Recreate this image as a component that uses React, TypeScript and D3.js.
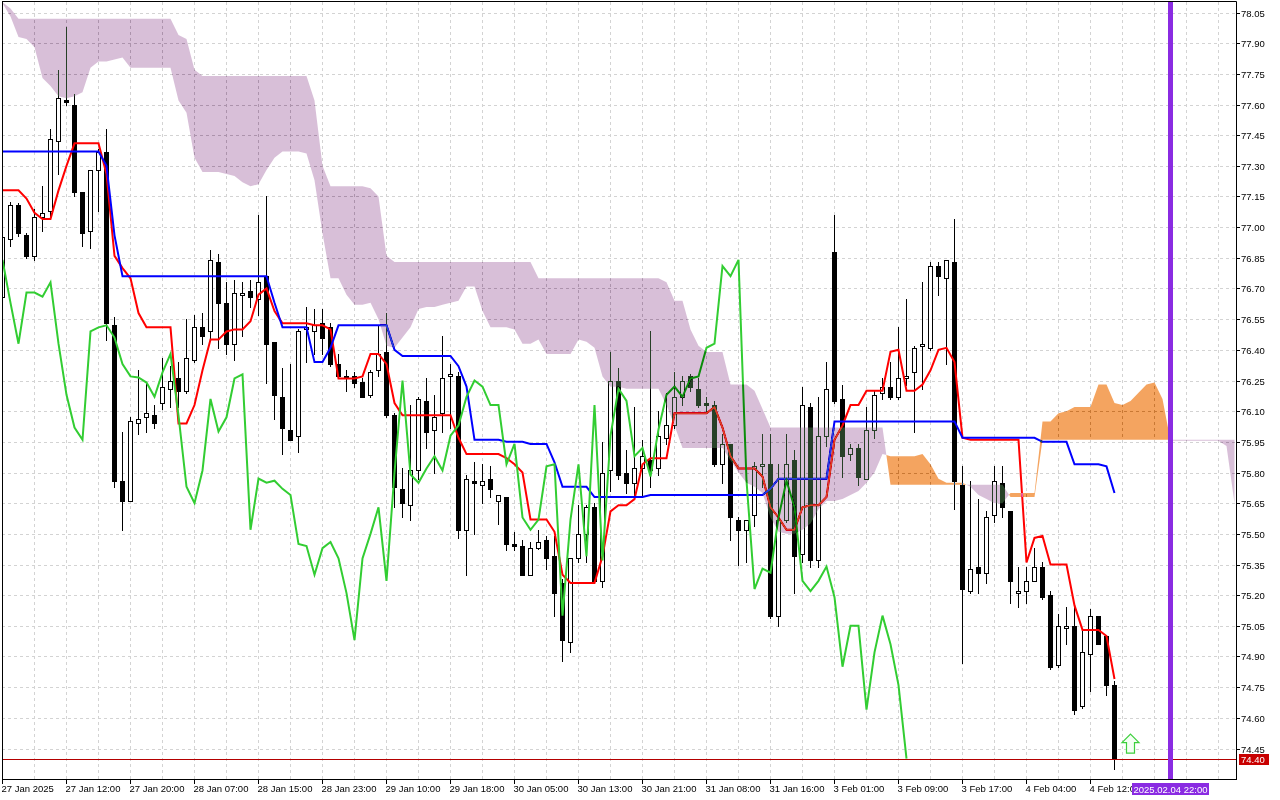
import React from 'react';
import * as d3 from 'd3';

// Hourly bars 27 Jan 2025 – 4 Feb 2025 15:00
const opens = [
  76.66, 76.94, 77.11, 76.96, 76.86, 77.05, 77.08, 77.42, 77.62, 77.60,
  77.17, 76.98, 77.28, 77.37, 76.52, 75.76, 75.66, 76.04, 76.07, 76.08,
  76.14, 76.21, 76.26, 76.20, 76.35, 76.51, 76.49, 76.83, 76.63, 76.43,
  76.67, 76.69, 76.65, 76.76, 76.44, 76.17, 76.01, 75.98, 76.50, 76.49,
  76.53, 76.51, 76.33, 76.27, 76.27, 76.245, 76.18, 76.30, 76.39, 76.08,
  75.72, 75.64, 75.81, 76.15, 76.01, 76.09, 76.27, 76.27, 75.52, 75.76,
  75.74, 75.77, 75.66, 75.68, 75.45, 75.44, 75.30, 75.43, 75.47, 75.39,
  75.26, 74.97, 75.38, 75.50, 75.63, 75.27, 75.81, 76.25, 75.80, 75.75,
  75.82, 75.86, 75.82, 75.97, 76.03, 76.17, 76.27, 76.21, 76.14, 76.13,
  75.84, 75.94, 75.57, 75.52, 75.59, 75.83, 75.84, 75.10, 75.57, 75.86,
  75.40, 76.12, 75.37, 75.98, 76.88, 76.16, 75.89, 75.92, 75.77, 76.01,
  76.19, 76.22, 76.17, 76.26, 76.29, 76.42, 76.41, 76.81, 76.75, 76.83,
  75.74, 75.22, 75.34, 75.31, 75.59, 75.75, 75.61, 75.21, 75.22, 75.27,
  75.34, 75.20, 74.86, 75.04, 75.05, 74.66, 74.91, 75.10, 75.00, 74.76,
];
const highs = [
  76.97, 77.125, 77.12, 76.97, 77.09, 77.20, 77.48, 77.77, 77.98, 77.65,
  77.17, 77.28, 77.38, 77.48, 76.56, 76.00, 76.07, 76.30, 76.24, 76.13,
  76.36, 76.32, 76.34, 76.55, 76.57, 76.58, 76.89, 76.87, 76.73, 76.74,
  76.73, 76.74, 77.06, 77.15, 76.44, 76.31, 76.33, 76.50, 76.61, 76.60,
  76.60, 76.53, 76.38, 76.30, 76.29, 76.26, 76.30, 76.52, 76.58, 76.09,
  75.82, 76.13, 76.17, 76.26, 76.18, 76.47, 76.33, 76.29, 75.79, 75.85,
  75.84, 75.83, 75.69, 75.68, 75.51, 75.47, 75.46, 75.52, 75.49, 75.49,
  75.28, 75.38, 75.64, 75.64, 75.65, 75.95, 76.39, 76.31, 75.91, 76.12,
  75.96, 76.49, 76.10, 76.19, 76.29, 76.27, 76.28, 76.26, 76.17, 76.15,
  75.99, 75.94, 75.58, 75.57, 75.85, 75.99, 75.99, 75.84, 75.99, 75.91,
  76.22, 76.14, 76.17, 76.34, 77.06, 76.23, 75.94, 75.94, 76.12, 76.20,
  76.26, 76.34, 76.51, 76.65, 76.42, 76.73, 76.83, 76.83, 76.84, 77.04,
  75.83, 75.76, 75.67, 75.61, 75.83, 75.83, 75.61, 75.34, 75.34, 75.43,
  75.36, 75.22, 75.11, 75.14, 75.14, 75.03, 75.13, 75.10, 75.00, 74.78,
];
const lows = [
  76.64, 76.91, 76.955, 76.85, 76.84, 76.98, 77.04, 77.26, 77.60, 77.15,
  76.91, 76.90, 77.08, 76.45, 75.73, 75.52, 75.66, 75.99, 76.00, 76.02,
  76.11, 76.12, 76.12, 76.19, 76.34, 76.43, 76.45, 76.41, 76.38, 76.35,
  76.47, 76.61, 76.57, 76.24, 76.06, 75.89, 75.96, 75.90, 76.34, 76.38,
  76.38, 76.32, 76.26, 76.20, 76.22, 76.17, 76.17, 76.27, 76.07, 75.63,
  75.58, 75.57, 75.77, 75.92, 75.80, 76.00, 76.02, 75.48, 75.30, 75.50,
  75.65, 75.68, 75.55, 75.42, 75.42, 75.30, 75.30, 75.425, 75.33, 75.10,
  74.88, 74.92, 75.36, 75.36, 75.26, 75.24, 75.71, 75.77, 75.70, 75.69,
  75.68, 75.73, 75.79, 75.94, 76.02, 76.13, 76.20, 76.12, 76.10, 75.83,
  75.75, 75.47, 75.35, 75.36, 75.54, 75.73, 75.09, 75.05, 75.56, 75.21,
  75.36, 75.34, 75.34, 75.93, 76.14, 75.78, 75.86, 75.74, 75.77, 75.97,
  76.16, 76.16, 76.16, 76.23, 76.00, 76.21, 76.40, 76.67, 76.33, 75.62,
  74.87, 75.21, 75.21, 75.26, 75.56, 75.58, 75.16, 75.14, 75.16, 75.27,
  75.18, 74.84, 74.85, 74.96, 74.62, 74.65, 74.73, 74.96, 74.71, 74.35,
];
const closes = [
  76.95, 77.11, 76.97, 76.86, 77.05, 77.07, 77.43, 77.63, 77.61, 77.17,
  76.97, 77.28, 77.37, 76.53, 75.76, 75.66, 76.05, 76.06, 76.09, 76.04,
  76.22, 76.25, 76.20, 76.36, 76.51, 76.47, 76.84, 76.63, 76.43, 76.68,
  76.68, 76.66, 76.73, 76.43, 76.18, 76.02, 75.96, 76.49, 76.51, 76.52,
  76.46, 76.33, 76.27, 76.265, 76.24, 76.17, 76.29, 76.38, 76.08, 75.73,
  75.65, 75.81, 76.16, 76.00, 76.07, 76.26, 76.28, 75.52, 75.77, 75.75,
  75.76, 75.72, 75.69, 75.45, 75.44, 75.30, 75.43, 75.46, 75.38, 75.21,
  74.98, 75.38, 75.50, 75.63, 75.27, 75.80, 76.25, 75.79, 75.75, 75.82,
  75.88, 75.81, 75.98, 76.03, 76.17, 76.25, 76.22, 76.13, 76.13, 75.84,
  75.94, 75.58, 75.52, 75.57, 75.83, 75.84, 75.10, 75.57, 75.84, 75.39,
  76.13, 75.37, 75.98, 76.21, 76.15, 75.88, 75.92, 75.78, 76.01, 76.18,
  76.22, 76.17, 76.26, 76.27, 76.41, 76.43, 76.81, 76.76, 76.84, 75.76,
  75.23, 75.33, 75.31, 75.58, 75.76, 75.63, 75.27, 75.22, 75.27, 75.34,
  75.19, 74.85, 75.05, 75.05, 74.64, 74.92, 75.10, 74.96, 74.76, 74.40,
];

// Ichimoku buffers as the terminal drew them (one value per bar)
const tenkan = [
  77.18, 77.18, 77.18, 77.14, 77.07, 77.04, 77.04, 77.18, 77.30, 77.41,
  77.41, 77.41, 77.41, 77.26, 76.86, 76.80, 76.75, 76.58, 76.51, 76.51,
  76.51, 76.51, 76.04, 76.04, 76.13, 76.30, 76.45, 76.45, 76.49, 76.50,
  76.50, 76.54, 76.67, 76.70, 76.59, 76.53, 76.53, 76.53, 76.53, 76.52,
  76.52, 76.50, 76.26, 76.26, 76.26, 76.27, 76.38, 76.38, 76.33, 76.14,
  76.08, 76.08, 76.08, 76.08, 76.08, 76.08, 76.08, 75.97, 75.89, 75.89,
  75.89, 75.89, 75.89, 75.87, 75.84, 75.80, 75.57, 75.57, 75.57, 75.51,
  75.30, 75.26, 75.26, 75.26, 75.26, 75.39, 75.61, 75.64, 75.64, 75.67,
  75.84, 75.87, 75.87, 75.87, 76.09, 76.09, 76.09, 76.09, 76.09, 76.12,
  76.02, 75.88, 75.82, 75.82, 75.82, 75.78, 75.63, 75.58, 75.52, 75.52,
  75.63, 75.64, 75.64, 75.68, 75.96, 76.03, 76.13, 76.13, 76.20, 76.20,
  76.20, 76.39, 76.40, 76.20, 76.20, 76.23, 76.30, 76.40, 76.41, 76.34,
  75.97, 75.96, 75.96, 75.96, 75.96, 75.96, 75.96, 75.96, 75.36, 75.48,
  75.49, 75.35, 75.35, 75.35, 75.15, 75.03, 75.03, 75.03, 75.00, 74.79,
];
const kijun = [
  77.37, 77.37, 77.37, 77.37, 77.37, 77.37, 77.37, 77.37, 77.37, 77.37,
  77.37, 77.37, 77.37, 77.30, 76.96, 76.76, 76.76, 76.76, 76.76, 76.76,
  76.76, 76.76, 76.76, 76.76, 76.76, 76.76, 76.76, 76.76, 76.76, 76.76,
  76.76, 76.76, 76.76, 76.76, 76.63, 76.51, 76.51, 76.51, 76.51, 76.34,
  76.34, 76.41, 76.52, 76.52, 76.52, 76.52, 76.52, 76.52, 76.52, 76.40,
  76.37, 76.37, 76.37, 76.37, 76.37, 76.37, 76.37, 76.32, 76.22, 75.96,
  75.96, 75.96, 75.96, 75.95, 75.95, 75.95, 75.94, 75.94, 75.94, 75.85,
  75.73, 75.73, 75.73, 75.73, 75.68, 75.68, 75.68, 75.68, 75.68, 75.68,
  75.68, 75.69, 75.69, 75.69, 75.69, 75.69, 75.69, 75.69, 75.69, 75.69,
  75.69, 75.69, 75.69, 75.69, 75.69, 75.69, 75.72, 75.77, 75.77, 75.77,
  75.77, 75.77, 75.77, 75.77, 76.05, 76.05, 76.05, 76.05, 76.05, 76.05,
  76.05, 76.05, 76.05, 76.05, 76.05, 76.05, 76.05, 76.05, 76.05, 76.05,
  75.97, 75.97, 75.97, 75.97, 75.97, 75.97, 75.97, 75.97, 75.97, 75.97,
  75.95, 75.95, 75.95, 75.95, 75.84, 75.84, 75.84, 75.84, 75.83, 75.70,
];
// Senkou spans, already shifted forward: index = bar slot on screen
const senkouA = [
  78.095, 78.03, 77.93, 77.92, 77.88, 77.73, 77.69, 77.64, 77.63, 77.64,
  77.66, 77.78, 77.81, 77.81, 77.82, 77.83, 77.78, 77.78, 77.78, 77.78,
  77.78, 77.78, 77.62, 77.56, 77.34, 77.27, 77.27, 77.27, 77.26, 77.25,
  77.22, 77.20, 77.21, 77.28, 77.34, 77.37, 77.37, 77.37, 77.36, 77.23,
  76.97, 76.75, 76.75, 76.67, 76.62, 76.62, 76.63, 76.55, 76.42, 76.41,
  76.46, 76.51, 76.60, 76.61, 76.61, 76.62, 76.63, 76.64, 76.71, 76.71,
  76.59, 76.51, 76.51, 76.51, 76.50, 76.43, 76.43, 76.45, 76.38, 76.38,
  76.38, 76.38, 76.45, 76.44, 76.41, 76.27, 76.22, 76.22, 76.21, 76.21,
  76.21, 76.21, 76.21, 76.13, 76.03, 75.92, 75.92, 75.92, 75.92, 75.92,
  75.92, 75.86, 75.80, 75.75, 75.73, 75.70, 75.58, 75.51, 75.50, 75.50,
  75.52, 75.55, 75.62, 75.66, 75.66, 75.67, 75.69, 75.71, 75.75, 75.80,
  75.89, 75.88, 75.88, 75.88, 75.88, 75.89, 75.84, 75.77, 75.75, 75.75,
  75.75, 75.73, 75.69, 75.67, 75.65, 75.65, 75.70, 75.70, 75.70, 75.70,
  76.05, 76.05, 76.09, 76.10, 76.12, 76.12, 76.12, 76.23, 76.23, 76.14,
  76.13, 76.15, 76.19, 76.23, 76.24, 76.16, 75.955, 75.955, 75.955, 75.955,
  75.955, 75.955, 75.955, 75.93, 75.65,
];
const senkouB = [
  78.10, 78.07, 78.02, 78.02, 78.02, 78.02, 78.02, 78.02, 78.02, 78.02,
  78.02, 78.02, 78.02, 78.02, 78.02, 78.02, 78.02, 78.02, 78.02, 78.02,
  78.02, 78.02, 77.94, 77.92, 77.77, 77.74, 77.74, 77.74, 77.74, 77.74,
  77.74, 77.74, 77.74, 77.74, 77.74, 77.74, 77.74, 77.74, 77.74, 77.62,
  77.30, 77.20, 77.20, 77.20, 77.20, 77.20, 77.19, 77.15, 76.86, 76.83,
  76.83, 76.83, 76.83, 76.83, 76.83, 76.83, 76.83, 76.83, 76.83, 76.83,
  76.83, 76.83, 76.83, 76.83, 76.83, 76.83, 76.83, 76.75, 76.75, 76.75,
  76.75, 76.75, 76.75, 76.75, 76.75, 76.75, 76.75, 76.75, 76.75, 76.75,
  76.75, 76.75, 76.75, 76.73, 76.64, 76.64, 76.50, 76.42, 76.39, 76.39,
  76.39, 76.23, 76.23, 76.23, 76.20, 76.11, 76.02, 76.02, 76.02, 76.02,
  76.02, 76.02, 76.02, 76.02, 76.02, 76.02, 76.02, 76.02, 76.02, 76.02,
  76.02, 75.74, 75.74, 75.74, 75.74, 75.74, 75.74, 75.74, 75.74, 75.74,
  75.74, 75.74, 75.74, 75.74, 75.74, 75.74, 75.68, 75.68, 75.68, 75.68,
  75.96, 75.96, 75.96, 75.96, 75.96, 75.96, 75.96, 75.96, 75.96, 75.96,
  75.96, 75.96, 75.96, 75.96, 75.96, 75.96, 75.96, 75.96, 75.96, 75.96,
  75.96, 75.96, 75.96, 75.96, 75.96,
];
const chikouLag = 26;

const priceTicks = [
  78.05, 77.9, 77.75, 77.6, 77.45, 77.3, 77.15, 77.0, 76.85, 76.7, 76.55, 76.4, 76.25,
  76.1, 75.95, 75.8, 75.65, 75.5, 75.35, 75.2, 75.05, 74.9, 74.75, 74.6, 74.45,
];
const timeLabels = [
  '27 Jan 2025', '27 Jan 12:00', '27 Jan 20:00', '28 Jan 07:00', '28 Jan 15:00', '28 Jan 23:00',
  '29 Jan 10:00', '29 Jan 18:00', '30 Jan 05:00', '30 Jan 13:00', '30 Jan 21:00', '31 Jan 08:00',
  '31 Jan 16:00', '3 Feb 01:00', '3 Feb 09:00', '3 Feb 17:00', '4 Feb 04:00', '4 Feb 12:00',
];
const timeLabelStep = 8;
const gridStep = 4;

const bidPrice = 74.4;
const markerBar = 146;
const markerLabel = '2025.02.04 22:00';
const arrowBars = [141];
const arrowPrices = [74.52];

type CloudPoint = { i: number; a: number; b: number };

const W = 1280;
const H = 800;
const left = 2;
const right = 1236;
const top = 2;
const bottom = 779;
const font = "'Liberation Sans', Arial, sans-serif";

const App: React.FC = () => {
  const n = closes.length;
  // 8 px per bar, bar 0 sits on the left frame
  const x = d3.scaleLinear().domain([0, n - 1]).range([2.5, 2.5 + 8 * (n - 1)]);
  const y = d3.scaleLinear().domain([74.45, 78.05]).range([748.5, 12.5]);
  const py = (v: number) => Math.round(y(v));

  const line = d3
    .line<number>()
    .x((_, i) => x(i))
    .y((v) => y(v));

  const chikou = closes.slice(chikouLag);

  // add the crossing points so each colour is filled exactly
  const cloud: CloudPoint[] = [];
  senkouA.forEach((a, i) => {
    const b = senkouB[i];
    cloud.push({ i, a, b });
    if (i + 1 < senkouA.length) {
      const d0 = a - b;
      const d1 = senkouA[i + 1] - senkouB[i + 1];
      if (d0 * d1 < 0) {
        const t = d0 / (d0 - d1);
        cloud.push({ i: i + t, a: a + t * (senkouA[i + 1] - a), b: b + t * (senkouB[i + 1] - b) });
      }
    }
  });
  const thistle = d3
    .area<CloudPoint>()
    .x((d) => x(d.i))
    .y0((d) => y(d.a))
    .y1((d) => y(Math.max(d.a, d.b)))(cloud);
  const sandy = d3
    .area<CloudPoint>()
    .x((d) => x(d.i))
    .y0((d) => y(d.b))
    .y1((d) => y(Math.max(d.a, d.b)))(cloud);

  const gridBars = d3.range(0, 200, gridStep).filter((i) => x(i) < right);
  const markerX = x(markerBar);

  return (
    <svg
      width={W}
      height={H}
      style={{ position: 'absolute', left: 0, top: 0, display: 'block' }}
      fontFamily={font}
    >
      <defs>
        <clipPath id="plot">
          <rect x={left} y={top} width={right - left} height={bottom - top} />
        </clipPath>
      </defs>
      <rect x={0} y={0} width={W} height={H} fill="#ffffff" />

      <g clipPath="url(#plot)">
        {/* grid */}
        {priceTicks.map((p) => (
          <line key={'h' + p} x1={left} x2={right} y1={py(p) + 0.5} y2={py(p) + 0.5}
            stroke="#d3d3d3" strokeDasharray="3 3" />
        ))}
        {gridBars.map((i) => (
          <line key={'v' + i} x1={x(i)} x2={x(i)} y1={top} y2={bottom}
            stroke="#d3d3d3" strokeDasharray="3 3" />
        ))}

        {/* candles */}
        {closes.map((c, i) => {
          const o = opens[i];
          const cx = x(i);
          const yt = py(Math.max(o, c));
          const yb = py(Math.min(o, c));
          const up = c >= o;
          return (
            <g key={'c' + i}>
              <line x1={cx} x2={cx} y1={py(highs[i])} y2={py(lows[i]) + 1} stroke="#000" />
              {yb - yt < 1 ? (
                <line x1={cx - 2.5} x2={cx + 2.5} y1={yt + 0.5} y2={yt + 0.5} stroke="#000" />
              ) : up ? (
                <rect x={cx - 2} y={yt + 0.5} width={4} height={yb - yt} fill="#fff" stroke="#000" />
              ) : (
                <rect x={cx - 2.5} y={yt} width={5} height={yb - yt + 1} fill="#000" />
              )}
            </g>
          );
        })}

        <path d={line(tenkan) ?? ''} fill="none" stroke="#ff0000" strokeWidth={2} />
        <path d={line(kijun) ?? ''} fill="none" stroke="#0000ff" strokeWidth={2} />
        <path d={line(chikou) ?? ''} fill="none" stroke="#32cd32" strokeWidth={2} />

        <line x1={left} x2={right} y1={py(bidPrice) + 0.5} y2={py(bidPrice) + 0.5} stroke="#b40000" />
      </g>

      {/* the terminal XORs the cloud, difference blending gives the same colours */}
      <path d={thistle ?? ''} fill="rgb(39,64,39)" style={{ mixBlendMode: 'difference' }} />
      <path d={sandy ?? ''} fill="rgb(11,91,159)" style={{ mixBlendMode: 'difference' }} />

      <line x1={markerX} x2={markerX} y1={top} y2={bottom} stroke="#8a2be2" strokeWidth={5} />

      {arrowBars.map((b, k) => {
        const ax = x(b);
        const ay = y(arrowPrices[k]);
        const d = `M${ax},${ay} L${ax + 8.5},${ay + 8.5} L${ax + 4},${ay + 8.5} L${ax + 4},${ay + 19} L${ax - 4},${ay + 19} L${ax - 4},${ay + 8.5} L${ax - 8.5},${ay + 8.5} Z`;
        return <path key={'a' + k} d={d} fill="#f4fff4" stroke="#3ccf3c" strokeWidth={1.2} />;
      })}

      {/* frame */}
      <line x1={left} x2={right + 0.5} y1={1.5} y2={1.5} stroke="#000" />
      <line x1={left + 0.5} x2={left + 0.5} y1={1.5} y2={bottom + 0.5} stroke="#000" />
      <line x1={right + 0.5} x2={right + 0.5} y1={1.5} y2={bottom + 0.5} stroke="#000" />
      <line x1={left} x2={right + 1} y1={bottom + 0.5} y2={bottom + 0.5} stroke="#000" />

      {/* price axis */}
      {priceTicks.map((p) => (
        <g key={'p' + p}>
          <line x1={right} x2={right + 4} y1={py(p) + 0.5} y2={py(p) + 0.5} stroke="#000" />
          <text x={right + 5} y={py(p) + 4} fontSize={9.5} fill="#000">
            {p.toFixed(2)}
          </text>
        </g>
      ))}
      <rect x={1239} y={py(bidPrice) - 5} width={30} height={11} fill="#c80000" />
      <text x={1241} y={py(bidPrice) + 4} fontSize={9.5} fill="#fff">
        {bidPrice.toFixed(2)}
      </text>

      {/* time axis */}
      {timeLabels.map((t, k) => {
        const tx = x(k * timeLabelStep);
        return (
          <g key={'t' + k}>
            <line x1={tx} x2={tx} y1={bottom} y2={bottom + 5} stroke="#000" />
            <text x={tx - 1} y={792} fontSize={9.5} fill="#000">
              {t}
            </text>
          </g>
        );
      })}
      <rect x={markerX - 38.5} y={783} width={77} height={12} fill="#8a2be2" />
      <text x={markerX} y={792.5} fontSize={9.5} fill="#fff" textAnchor="middle">
        {markerLabel}
      </text>
    </svg>
  );
};

export default App;
